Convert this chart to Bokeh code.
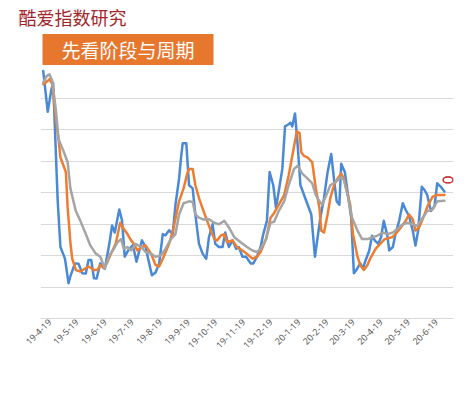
import pandas as pd
from math import pi
from bokeh.plotting import figure
from bokeh.models import (Range1d, FixedTicker, Legend, LegendItem, Title,
                          ColumnDataSource)
from bokeh.embed import file_html
from bokeh.resources import INLINE

# ---------------- data ----------------
tick_dates = ["2019-04-19", "2019-05-19", "2019-06-19", "2019-07-19", "2019-08-19",
              "2019-09-19", "2019-10-19", "2019-11-19", "2019-12-19", "2020-01-19",
              "2020-02-19", "2020-03-19", "2020-04-19", "2020-05-19", "2020-06-19"]
tick_labels = ["19-4-19", "19-5-19", "19-6-19", "19-7-19", "19-8-19", "19-9-19",
               "19-10-19", "19-11-19", "19-12-19", "20-1-19", "20-2-19", "20-3-19",
               "20-4-19", "20-5-19", "20-6-19"]

blue_dates = ["2019-04-12", "2019-04-17", "2019-04-21", "2019-04-23", "2019-04-28", "2019-05-01", "2019-05-06", "2019-05-10", "2019-05-12", "2019-05-17",
              "2019-05-21", "2019-05-25", "2019-05-29", "2019-06-01", "2019-06-04", "2019-06-07", "2019-06-10", "2019-06-14", "2019-06-19", "2019-06-24",
              "2019-06-27", "2019-06-30", "2019-07-05", "2019-07-08", "2019-07-11", "2019-07-15", "2019-07-20", "2019-07-24", "2019-07-30", "2019-08-03",
              "2019-08-07", "2019-08-10", "2019-08-14", "2019-08-18", "2019-08-22", "2019-08-25", "2019-08-29", "2019-09-02", "2019-09-05", "2019-09-09",
              "2019-09-11", "2019-09-13", "2019-09-17", "2019-09-20", "2019-09-24", "2019-09-27", "2019-10-01", "2019-10-05", "2019-10-09", "2019-10-12",
              "2019-10-16", "2019-10-19", "2019-10-23", "2019-10-27", "2019-10-30", "2019-11-03", "2019-11-07", "2019-11-11", "2019-11-14", "2019-11-18",
              "2019-11-22", "2019-11-27", "2019-11-30", "2019-12-04", "2019-12-08", "2019-12-11", "2019-12-15", "2019-12-18", "2019-12-22", "2019-12-25",
              "2019-12-28", "2020-01-01", "2020-01-04", "2020-01-07", "2020-01-10", "2020-01-12", "2020-01-15", "2020-01-18", "2020-01-21", "2020-01-25",
              "2020-01-29", "2020-02-02", "2020-02-06", "2020-02-09", "2020-02-12", "2020-02-16", "2020-02-20", "2020-02-24", "2020-02-27", "2020-03-01",
              "2020-03-04", "2020-03-06", "2020-03-10", "2020-03-13", "2020-03-17", "2020-03-20", "2020-03-23", "2020-03-27", "2020-03-30", "2020-04-02",
              "2020-04-06", "2020-04-09", "2020-04-12", "2020-04-16", "2020-04-19", "2020-04-22", "2020-04-26", "2020-04-28", "2020-05-02", "2020-05-05",
              "2020-05-09", "2020-05-13", "2020-05-16", "2020-05-20", "2020-05-24", "2020-05-27", "2020-05-30", "2020-06-03", "2020-06-06", "2020-06-09",
              "2020-06-13", "2020-06-17", "2020-06-20", "2020-06-24", "2020-06-28"]
blue_vals = [78.6, 65.6, 72.7, 74.8, 37.3, 22.7, 19.0, 11.2, 13.4, 17.5,
             17.4, 14.4, 14.3, 18.6, 18.6, 12.8, 12.7, 17.5, 15.8, 23.7,
             29.5, 27.3, 34.6, 31.1, 19.6, 21.7, 23.3, 18.0, 24.8, 22.7,
             17.5, 13.7, 14.6, 17.5, 26.8, 26.4, 28.0, 26.8, 36.1, 44.4,
             50.6, 55.6, 55.6, 42.3, 41.3, 33.0, 23.7, 20.6, 19.0, 25.8,
             29.9, 23.7, 22.7, 22.7, 27.3, 22.7, 24.8, 22.1, 22.7, 19.6,
             19.6, 17.5, 17.5, 19.6, 22.7, 26.8, 31.0, 46.5, 42.3, 35.1,
             40.3, 47.5, 61.0, 61.5, 62.1, 61.0, 65.1, 54.8, 42.3, 39.2,
             36.1, 33.0, 19.6, 25.8, 32.0, 38.2, 46.5, 52.2, 44.4, 37.2,
             36.1, 49.1, 46.5, 40.3, 32.0, 14.4, 15.5, 17.5, 15.9, 18.5,
             21.6, 26.3, 24.8, 23.7, 25.8, 31.0, 26.3, 21.6, 22.7, 26.8,
             31.0, 36.6, 34.6, 32.5, 27.9, 23.2, 27.9, 41.8, 40.8, 39.2,
             34.1, 35.6, 42.9, 41.8, 40.3]

orange_dates = ["2019-04-12", "2019-04-16", "2019-04-19", "2019-04-22", "2019-04-26", "2019-04-29", "2019-05-01", "2019-05-07", "2019-05-09", "2019-05-12",
                "2019-05-14", "2019-05-18", "2019-05-23", "2019-05-28", "2019-06-01", "2019-06-07", "2019-06-11", "2019-06-14", "2019-06-18", "2019-06-22",
                "2019-06-25", "2019-07-01", "2019-07-06", "2019-07-10", "2019-07-14", "2019-07-18", "2019-07-21", "2019-07-25", "2019-07-30", "2019-08-03",
                "2019-08-09", "2019-08-14", "2019-08-18", "2019-08-23", "2019-08-29", "2019-09-03", "2019-09-09", "2019-09-14", "2019-09-18", "2019-09-20",
                "2019-09-24", "2019-09-27", "2019-10-01", "2019-10-06", "2019-10-10", "2019-10-14", "2019-10-18", "2019-10-21", "2019-10-25", "2019-10-29",
                "2019-11-01", "2019-11-07", "2019-11-12", "2019-11-18", "2019-11-23", "2019-11-29", "2019-12-04", "2019-12-08", "2019-12-14", "2019-12-19",
                "2019-12-23", "2019-12-28", "2020-01-03", "2020-01-08", "2020-01-12", "2020-01-17", "2020-01-20", "2020-01-22", "2020-01-25", "2020-01-29",
                "2020-02-03", "2020-02-07", "2020-02-11", "2020-02-13", "2020-02-16", "2020-02-20", "2020-02-23", "2020-02-27", "2020-03-02", "2020-03-06",
                "2020-03-09", "2020-03-12", "2020-03-16", "2020-03-19", "2020-03-24", "2020-03-27", "2020-03-31", "2020-04-04", "2020-04-07", "2020-04-13",
                "2020-04-18", "2020-04-23", "2020-05-01", "2020-05-05", "2020-05-11", "2020-05-16", "2020-05-20", "2020-05-24", "2020-05-27", "2020-05-31",
                "2020-06-06", "2020-06-10", "2020-06-15", "2020-06-20", "2020-06-28"]
orange_vals = [74.4, 75.2, 76.0, 74.4, 63.0, 56.8, 51.1, 46.5, 35.1, 24.2,
               19.0, 15.4, 14.9, 15.8, 16.5, 15.4, 15.4, 17.0, 15.9, 18.0,
               20.1, 23.7, 30.4, 28.4, 26.8, 24.8, 23.7, 21.6, 22.7, 23.2,
               20.6, 17.0, 16.5, 19.6, 23.7, 28.9, 37.2, 41.3, 46.0, 47.5,
               47.5, 42.3, 38.2, 34.1, 31.0, 27.9, 25.2, 24.8, 26.3, 26.8,
               24.2, 24.8, 22.7, 21.6, 20.5, 19.0, 19.6, 21.1, 25.2, 32.0,
               33.5, 36.1, 39.2, 45.4, 51.6, 59.4, 58.9, 52.7, 51.6, 51.1,
               49.6, 41.3, 35.1, 27.9, 27.3, 33.0, 38.2, 42.3, 44.4, 46.0,
               44.4, 40.8, 36.1, 26.8, 19.6, 17.0, 15.4, 17.0, 19.0, 22.1,
               23.7, 25.2, 25.8, 26.8, 28.9, 31.0, 33.0, 31.5, 27.9, 28.9,
               33.0, 36.1, 38.7, 39.2, 39.2]

gray_dates = ["2019-04-12", "2019-04-16", "2019-04-19", "2019-04-22", "2019-04-26", "2019-04-29", "2019-05-05", "2019-05-09", "2019-05-12", "2019-05-18",
              "2019-05-23", "2019-05-29", "2019-06-03", "2019-06-09", "2019-06-14", "2019-06-19", "2019-06-24", "2019-06-29", "2019-07-03", "2019-07-07",
              "2019-07-10", "2019-07-14", "2019-07-18", "2019-07-23", "2019-07-29", "2019-08-03", "2019-08-09", "2019-08-14", "2019-08-20", "2019-08-25",
              "2019-08-31", "2019-09-05", "2019-09-09", "2019-09-14", "2019-09-20", "2019-09-24", "2019-09-27", "2019-10-01", "2019-10-06", "2019-10-12",
              "2019-10-18", "2019-10-23", "2019-10-29", "2019-11-03", "2019-11-09", "2019-11-16", "2019-11-23", "2019-11-29", "2019-12-04", "2019-12-08",
              "2019-12-14", "2019-12-19", "2019-12-23", "2019-12-28", "2020-01-03", "2020-01-08", "2020-01-14", "2020-01-18", "2020-01-23", "2020-01-29",
              "2020-02-03", "2020-02-07", "2020-02-11", "2020-02-14", "2020-02-18", "2020-02-23", "2020-02-29", "2020-03-06", "2020-03-09", "2020-03-13",
              "2020-03-18", "2020-03-24", "2020-03-29", "2020-04-04", "2020-04-10", "2020-04-15", "2020-04-21", "2020-04-26", "2020-05-02", "2020-05-07",
              "2020-05-13", "2020-05-18", "2020-05-24", "2020-05-29", "2020-06-04", "2020-06-09", "2020-06-15", "2020-06-20", "2020-06-28"]
gray_vals = [74.9, 77.0, 77.5, 75.5, 66.1, 56.8, 52.7, 49.6, 41.3, 34.1,
             31.0, 26.8, 23.2, 20.6, 19.6, 15.9, 20.1, 22.1, 24.2, 25.2,
             22.1, 22.7, 21.6, 23.7, 22.7, 21.1, 20.6, 19.6, 20.1, 22.1,
             25.2, 26.8, 33.0, 36.6, 37.2, 37.0, 33.0, 32.0, 31.4, 31.5,
             30.4, 29.9, 31.0, 28.9, 25.8, 24.2, 22.7, 21.6, 21.1, 22.1,
             25.2, 30.4, 30.7, 34.1, 37.2, 42.3, 47.5, 48.5, 46.0, 44.4,
             42.9, 39.2, 37.2, 36.1, 38.7, 42.3, 43.4, 44.9, 43.9, 39.2,
             32.0, 27.9, 25.2, 25.2, 25.8, 26.3, 27.3, 26.8, 27.3, 28.4,
             29.9, 30.4, 29.9, 29.4, 32.0, 34.1, 34.6, 37.2, 37.4]

series_names = ["4日指标", "12日指标", "综合指"]
series_colors = ["#4A89D6", "#ED7D31", "#A5A5A5"]

# highlight ring just after the last values
ring_date = ["2020-07-02"]
ring_val = [44.0]
ring_width_days = 11
ring_height = 1.9

x_start, x_end = "2019-04-09", "2020-07-08"
y_grid_vals = [10, 20, 30, 40, 50, 60, 70]

main_title = "酷爱指数研究"
sub_title = "先看阶段与周期"


def ms(s):
    return pd.Timestamp(s).value // 10**6


p = figure(frame_width=413, frame_height=252, output_backend="svg", toolbar_location=None,
           x_axis_type="datetime",
           x_range=Range1d(ms(x_start), ms(x_end)), y_range=Range1d(0, 80),
           min_border_left=40, min_border_right=6, min_border_top=65, min_border_bottom=0)
p.outline_line_color = None
p.background_fill_color = "white"
p.border_fill_color = "white"

renderers = []
for dates, vals, color in [(blue_dates, blue_vals, series_colors[0]),
                           (orange_dates, orange_vals, series_colors[1]),
                           (gray_dates, gray_vals, series_colors[2])]:
    src = ColumnDataSource(dict(x=pd.to_datetime(dates), y=vals))
    r = p.line("x", "y", source=src, line_color=color, line_width=2.5,
               line_join="round", line_cap="round")
    renderers.append(r)

# ring
p.ellipse(x=pd.to_datetime(ring_date), y=ring_val, width=ring_width_days * 86400000,
          height=ring_height, fill_color=None, line_color="#C8373B", line_width=1.6)

# axes
p.yaxis.visible = False
xa = p.xaxis[0]
tick_ms = [ms(d) for d in tick_dates]
xa.ticker = FixedTicker(ticks=tick_ms)
xa.major_label_overrides = {t: l for t, l in zip(tick_ms, tick_labels)}
xa.major_label_orientation = pi / 4
xa.major_label_text_font = "Noto Sans"
xa.major_label_text_font_size = "9px"
xa.major_label_text_color = "#595959"
xa.axis_line_color = "#D9D9D9"
xa.major_tick_line_color = "#D9D9D9"
xa.major_tick_out = 1
xa.major_tick_in = 0
xa.minor_tick_line_color = None
xa.major_label_standoff = 1

p.xgrid.visible = False
p.ygrid.ticker = FixedTicker(ticks=y_grid_vals)
p.ygrid.grid_line_color = "#D9D9D9"
p.ygrid.grid_line_width = 1

# legend below
legend = Legend(items=[LegendItem(label=n, renderers=[r]) for n, r in zip(series_names, renderers)],
                location=(128, 0), orientation="horizontal",
                border_line_color=None, background_fill_alpha=0,
                padding=0, margin=0, spacing=6, glyph_width=21, glyph_height=10,
                label_height=10, label_standoff=2,
                label_text_font="Noto Sans CJK SC", label_text_font_size="10px",
                label_text_color="#595959")
p.add_layout(legend, "below")

# titles (first added sits nearest the frame)
t_box = Title(text=sub_title, align="left", offset=2, standoff=3,
              text_font="Noto Sans CJK SC", text_font_size="19px", text_font_style="normal",
              text_color="white", background_fill_color="#E8772E",
              padding=dict(left=19, right=19, top=2, bottom=2))
p.add_layout(t_box, "above")
t_main = Title(text=main_title, align="left", offset=-22, standoff=2,
               text_font="Noto Sans CJK SC", text_font_size="18px", text_font_style="normal",
               text_color="#A3262B")
p.add_layout(t_main, "above")

open("out.html", "w").write(file_html(p, INLINE))
